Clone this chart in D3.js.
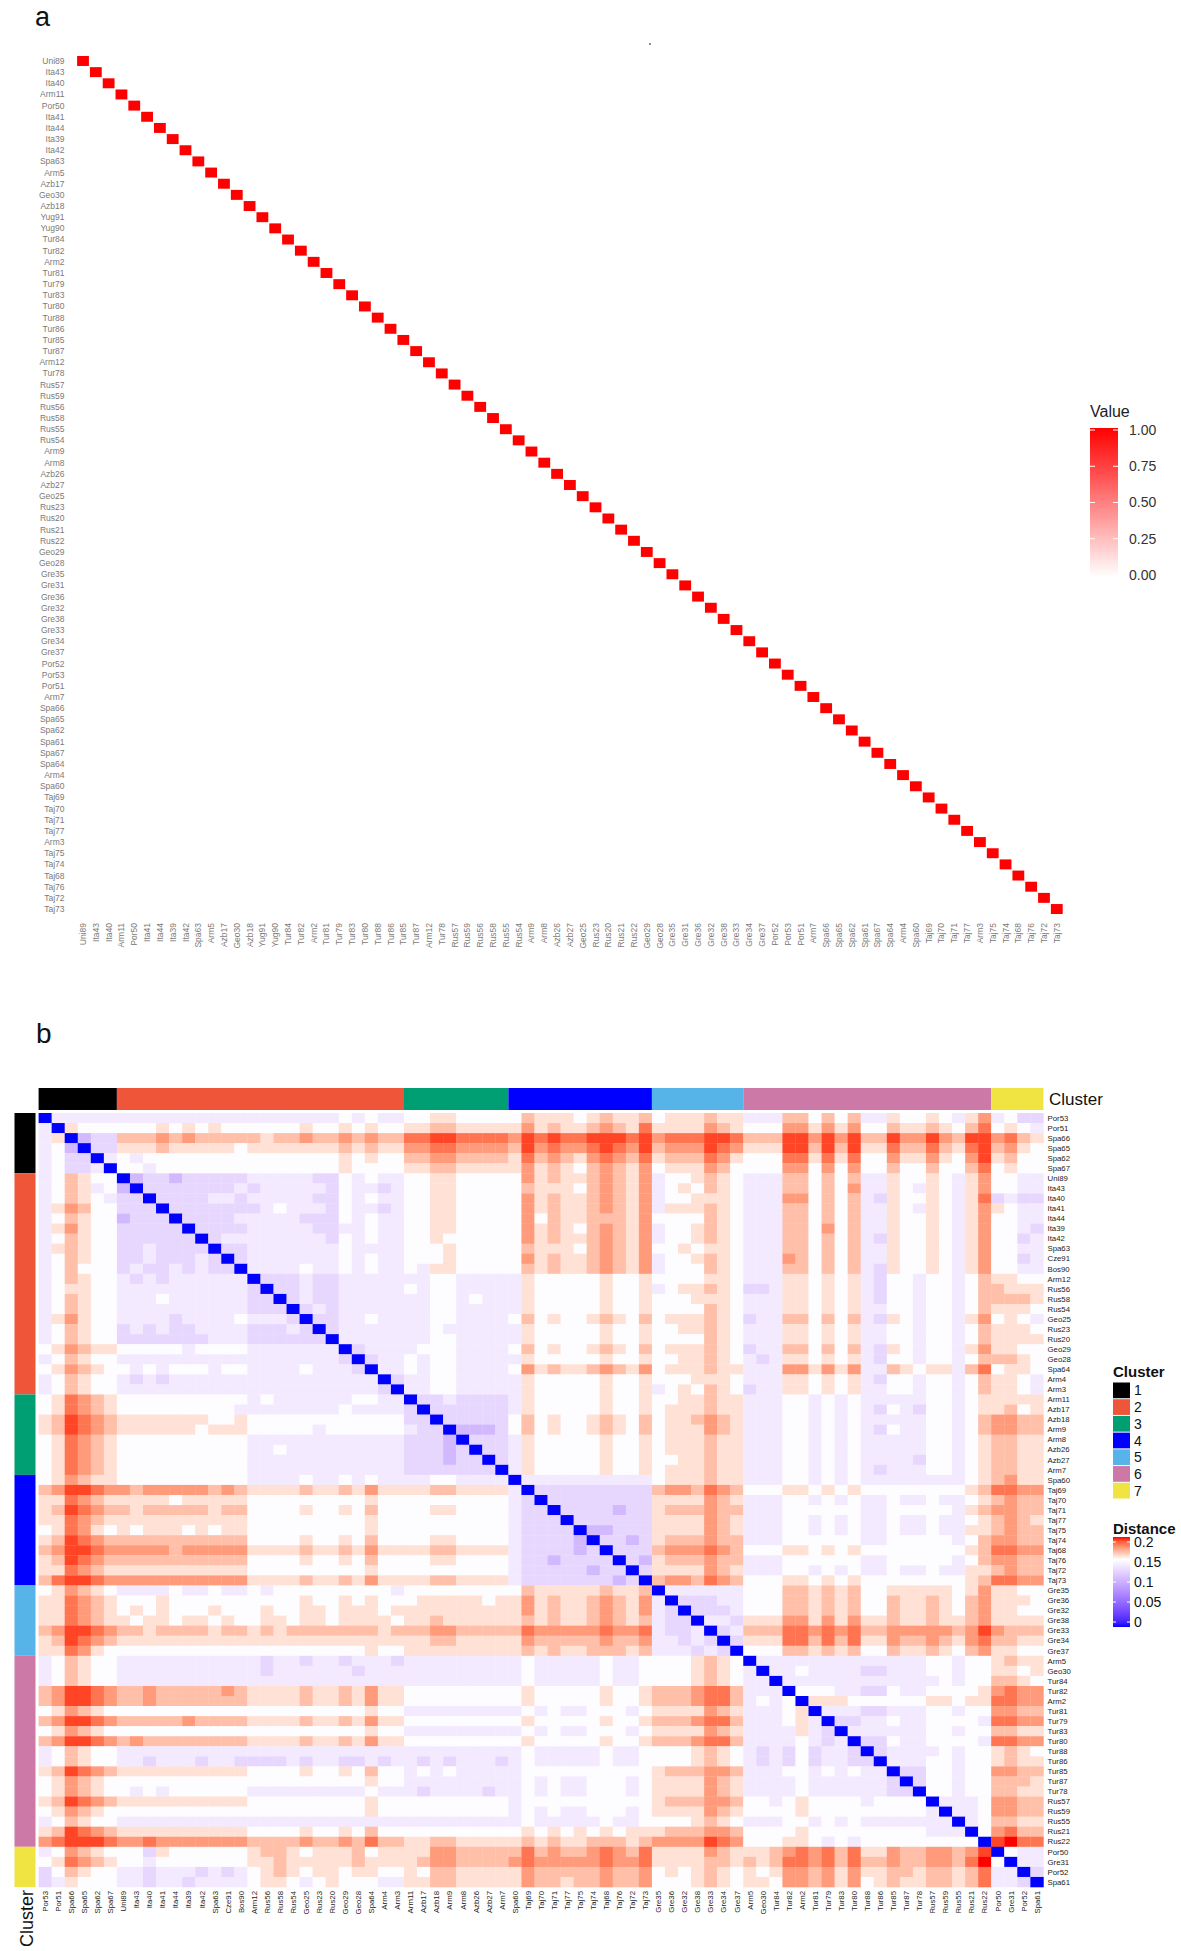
<!DOCTYPE html>
<html>
<head>
<meta charset="utf-8">
<script src="https://cdn.jsdelivr.net/npm/d3@7"></script>
<style>
  body { margin: 0; background: #fff; }
  svg { display: block; font-family: "Liberation Sans", Arial, sans-serif; }
</style>
</head>
<body>
<div id="chart"></div>
<script>
// ---- panel a data ----
const labelsA = ["Uni89","Ita43","Ita40","Arm11","Por50","Ita41","Ita44","Ita39","Ita42","Spa63","Arm5","Azb17","Geo30","Azb18","Yug91","Yug90","Tur84","Tur82","Arm2","Tur81","Tur79","Tur83","Tur80","Tur88","Tur86","Tur85","Tur87","Arm12","Tur78","Rus57","Rus59","Rus56","Rus58","Rus55","Rus54","Arm9","Arm8","Azb26","Azb27","Geo25","Rus23","Rus20","Rus21","Rus22","Geo29","Geo28","Gre35","Gre31","Gre36","Gre32","Gre38","Gre33","Gre34","Gre37","Por52","Por53","Por51","Arm7","Spa66","Spa65","Spa62","Spa61","Spa67","Spa64","Arm4","Spa60","Taj69","Taj70","Taj71","Taj77","Arm3","Taj75","Taj74","Taj68","Taj76","Taj72","Taj73"];
// diagonal values (all off-diagonal cells read as 0.00)
const diagonalA = [1,1,1,1,1,1,1,1,1,1,1, 1,1,1,1,1,1,1,1,1,1,1, 1,1,1,1,1,1,1,1,1,1,1, 1,1,1,1,1,1,1,1,1,1,1,
                   1,1,1,1,1,1,1,1,1,1,1, 1,1,1,1,1,1,1,1,1,1,1, 1,1,1,1,1,1,1,1,1,1,1];
const offDiagonalA = 0;
const valueTicks = [0, 0.25, 0.5, 0.75, 1];

// ---- panel b data ----
const labelsB = ["Por53","Por51","Spa66","Spa65","Spa62","Spa67","Uni89","Ita43","Ita40","Ita41","Ita44","Ita39","Ita42","Spa63","Cze91","Bos90","Arm12","Rus56","Rus58","Rus54","Geo25","Rus23","Rus20","Geo29","Geo28","Spa64","Arm4","Arm3","Arm11","Azb17","Azb18","Arm9","Arm8","Azb26","Azb27","Arm7","Spa60","Taj69","Taj70","Taj71","Taj77","Taj75","Taj74","Taj68","Taj76","Taj72","Taj73","Gre35","Gre36","Gre32","Gre38","Gre33","Gre34","Gre37","Arm5","Geo30","Tur84","Tur82","Arm2","Tur81","Tur79","Tur83","Tur80","Tur88","Tur86","Tur85","Tur87","Tur78","Rus57","Rus59","Rus55","Rus21","Rus22","Por50","Gre31","Por52","Spa61"];
const clusterB = [1,1,1,1,1,1,
  2,2,2,2,2,2,2,2,2,2,2,2,2,2,2,2,2,2,2,2,2,2,
  3,3,3,3,3,3,3,3,
  4,4,4,4,4,4,4,4,4,4,4,
  5,5,5,5,5,5,5,
  6,6,6,6,6,6,6,6,6,6,6,6,6,6,6,6,6,6,6,
  7,7,7,7];
const clusterNames = ["1","2","3","4","5","6","7"];
const clusterColors = ["#000000","#EE5539","#009E73","#0000FF","#56B4E9","#CC79A7","#F0E442"];
// distance read per cell, coded by shade (lower triangle, one row per sample)
const distanceCodes = {"1":0.105,"2":0.125,"3":0.137,"4":0.148,"5":0.158,"6":0.167,"7":0.176,"8":0.185,"9":0.194,"X":0.205};
const distanceRows = [
  "",
  "3",
  "35",
  "341",
  "3422",
  "34223",
  "346544",
  "346534 1",
  "346543 22",
  "357644 222",
  "346544 1222",
  "357544 22222",
  "346544 222222",
  "356544 2232222",
  "346544 22322232",
  "346444 232232322",
  "346544 3232333333",
  "345544 3333333333 2",
  "346544 3334333333 22",
  "346544 3333333333 222",
  "357544 3333233334 3332",
  "346544 2323223333 22232",
  "346544 2222222333 222222",
  "457655 4444434444 3333333",
  "346544 3333333333 33333332",
  "457654 4343444344 333343332",
  "346544 3232333333 3333333333",
  "346544 3333333333 33333333332",
  "458765 4444444444 343333334433",
  "458765 4444444443 333333343333 2",
  "569876 5555555445 444444444444 22",
  "569876 5555554555 444443444444 322",
  "458765 4444444444 333333333333 2221",
  "458765 4444444444 334333333333 22212",
  "458765 4444444444 333333333333 222122",
  "458765 4444444444 333333333333 2222222",
  "457655 4444444444 333343343433 33443333",
  "679987 7677777676 555565565755 55665555 3",
  "558765 5555455555 444444444544 44444444 32",
  "569876 6566666566 444454454644 44554444 322",
  "558765 5555555555 444444444544 44444444 3222",
  "458754 5455545455 444444444544 44444444 32222",
  "569876 6666666666 444454454644 44554444 322221",
  "679987 7777677777 555565565755 55665555 3222212",
  "569876 6666666666 444454454644 44554444 32212222",
  "558765 5555555555 444444444544 44444444 322222122",
  "689987 7777777777 555565565755 55665555 3222222212",
  "457654 3333433433 434444444443 44444444 46555556556",
  "558765 4445444444 444454454544 45555545 57565567657 3",
  "558765 4545444544 454455455545 55555555 57565567657 32",
  "558765 5455455454 455455455554 55655555 56565567656 322",
  "679987 6656666566 565666666656 66776666 68777778778 3223",
  "569876 5555555555 555555555555 55665555 57666667667 33232",
  "558754 4444444444 444444444544 55555555 56565566656 333232",
  "346544 3333333333 323323323332 33333333 34333334334 4445654",
  "346544 3333333333 323333332333 33333333 34333334334 4445654 3",
  "346544 3333333333 333333333333 33333333 34333334334 4445654 33",
  "679987 6676666676 555565565755 44444444 45444445445 6667886 333",
  "679987 6676666666 555565565755 44444444 45444445445 6667886 3434",
  "457654 4444444444 444444444544 33333333 34343344434 5555765 33345",
  "679987 6666676666 555565565755 44444444 45444445445 6667886 333453",
  "457654 4444444444 444444444544 33333333 34343344434 5555765 3333532",
  "679987 6766666666 555565565755 44444444 45444445445 6667886 33334323",
  "346544 3333333333 333333333333 33333333 34333334334 4445654 323242332",
  "346544 3323332332 222323322323 32323332 34333334334 4445654 3232423322",
  "569876 5555555555 444454454644 34343333 34444444444 5666776 33344343433",
  "457654 4444444444 444444444544 33333333 34343344434 5555765 333343333332",
  "457654 4343444444 333333333433 32333323 34343344434 5555765 3333433333322",
  "569876 5555555555 444444444544 44444444 34444444444 5666776 44345444434444",
  "457654 4444444444 444444444544 44444444 34343344434 5555765 444454444444443",
  "346544 3333333333 333333333333 33333333 34333334334 4445654 3334434343333333",
  "569876 5555555555 444454454644 44444444 45454545455 5666776 44445444444444333",
  "789998 7787777777 666676676866 55665555 56565566656 7777987 444554343444444444",
  "347654 4425444444 566545556455 55776666 68676678768 5555765 5567878685576677679",
  "458765 4434444444 556555556555 56776666 78777778778 5555665 656887868667667768X 4",
  "246544 3323332323 456545545544 54665555 57666667667 4545654 5457767575566566568 33",
  "235444 3323323333 455434544433 55665555 57665667667 4445654 5547767574565566568 332"
];
const distanceTicks = [0, 0.05, 0.1, 0.15, 0.2];

const width = 1181, height = 1951;

const svg = d3.select("#chart").append("svg")
  .attr("width", width).attr("height", height)
  .attr("viewBox", `0 0 ${width} ${height}`);
svg.append("rect").attr("width", width).attr("height", height).attr("fill", "#fff");
const defs = svg.append("defs");

// ================= panel a =================
const gA = svg.append("g");
const xA = d3.scaleBand().domain(labelsA).range([76.6, 1063.2]);
const yA = d3.scaleBand().domain(labelsA).range([55.4, 914.6]);
const colorA = d3.scaleLinear().domain([0, 1]).range(["#ffffff", "#ff0000"]);

const cellsA = [];
labelsA.forEach((r, i) => labelsA.forEach((c, j) => {
  cellsA.push({ r, c, v: i === j ? diagonalA[i] : offDiagonalA });
}));

gA.selectAll("rect.cell")
  .data(cellsA)
  .join("rect")
  .attr("class", "cell")
  .attr("x", d => xA(d.c) + 0.5)
  .attr("y", d => yA(d.r) + 0.6)
  .attr("width", xA.bandwidth() - 1)
  .attr("height", yA.bandwidth() - 1.2)
  .attr("fill", d => colorA(d.v));

gA.selectAll("text.ylab")
  .data(labelsA)
  .join("text")
  .attr("class", "ylab")
  .attr("x", 64.5)
  .attr("y", d => yA(d) + yA.bandwidth() / 2)
  .attr("dy", "0.35em")
  .attr("text-anchor", "end")
  .attr("font-size", 8.5)
  .attr("fill", "#7a7a7a")
  .text(d => d);

gA.selectAll("text.xlab")
  .data(labelsA)
  .join("text")
  .attr("class", "xlab")
  .attr("transform", d => `translate(${xA(d) + xA.bandwidth() / 2 + 3},923) rotate(-90)`)
  .attr("text-anchor", "end")
  .attr("font-size", 8.5)
  .attr("fill", "#7a7a7a")
  .text(d => d);

svg.append("text").attr("x", 35).attr("y", 26).attr("font-size", 27).attr("fill", "#111").text("a");
svg.append("circle").attr("cx", 650).attr("cy", 44).attr("r", 0.9).attr("fill", "#555");

// legend a
const legA = svg.append("g");
const yLegA = d3.scaleLinear().domain([0, 1]).range([575, 430]);
const gradA = defs.append("linearGradient").attr("id", "gradA")
  .attr("x1", 0).attr("y1", 1).attr("x2", 0).attr("y2", 0);
d3.range(0, 1.0001, 0.1).forEach(t => gradA.append("stop").attr("offset", t).attr("stop-color", colorA(t)));
legA.append("text").attr("x", 1090).attr("y", 417).attr("font-size", 16).attr("fill", "#222").text("Value");
legA.append("rect").attr("x", 1090).attr("y", yLegA(1) - 2).attr("width", 28)
  .attr("height", yLegA(0) - yLegA(1) + 4).attr("fill", "url(#gradA)");
valueTicks.forEach(t => {
  legA.append("line").attr("x1", 1090).attr("x2", 1095).attr("y1", yLegA(t)).attr("y2", yLegA(t))
    .attr("stroke", "#fff").attr("stroke-width", 1);
  legA.append("line").attr("x1", 1113).attr("x2", 1118).attr("y1", yLegA(t)).attr("y2", yLegA(t))
    .attr("stroke", "#fff").attr("stroke-width", 1);
});
legA.selectAll("text.tick")
  .data(valueTicks)
  .join("text")
  .attr("class", "tick")
  .attr("x", 1129)
  .attr("y", d => yLegA(d))
  .attr("dy", "0.35em")
  .attr("font-size", 14)
  .attr("fill", "#333")
  .text(d => d3.format(".2f")(d));

// ================= panel b =================
const gB = svg.append("g");
const xB = d3.scaleBand().domain(labelsB).range([38.6, 1043.4]);
const yB = d3.scaleBand().domain(labelsB).range([1113, 1887]);
const colorB = d3.scaleLinear().domain([0, 0.15, 0.2])
  .range(["#0000ff", "#ffffff", "#ff0000"])
  .interpolate(d3.interpolateLab)
  .clamp(true);
const clusterColor = d3.scaleOrdinal().domain([1, 2, 3, 4, 5, 6, 7]).range(clusterColors);

// symmetric distance matrix from the lower triangle
const n = labelsB.length;
const dist = labelsB.map(() => new Array(n).fill(0));
distanceRows.forEach((row, i) => {
  const codes = row.replace(/\s/g, "");
  for (let j = 0; j < i; j++) {
    const v = distanceCodes[codes[j]] ?? 0.148;
    dist[i][j] = v;
    dist[j][i] = v;
  }
});

const cellsB = [];
labelsB.forEach((r, i) => labelsB.forEach((c, j) => cellsB.push({ r, c, v: dist[i][j] })));

gB.selectAll("rect.cell")
  .data(cellsB)
  .join("rect")
  .attr("class", "cell")
  .attr("x", d => xB(d.c))
  .attr("y", d => yB(d.r))
  .attr("width", xB.bandwidth() + 0.3)
  .attr("height", yB.bandwidth() + 0.3)
  .attr("fill", d => colorB(d.v));

// cluster annotations, one block per cluster
const segments = d3.groups(labelsB.map((l, i) => ({ l, k: clusterB[i] })), d => d.k)
  .map(([k, items]) => ({ k, first: items[0].l, last: items[items.length - 1].l }));

gB.selectAll("rect.topann")
  .data(segments)
  .join("rect")
  .attr("class", "topann")
  .attr("x", d => xB(d.first))
  .attr("y", 1088)
  .attr("width", d => xB(d.last) + xB.bandwidth() - xB(d.first))
  .attr("height", 22)
  .attr("fill", d => clusterColor(d.k));

gB.selectAll("rect.leftann")
  .data(segments)
  .join("rect")
  .attr("class", "leftann")
  .attr("x", 14.5)
  .attr("y", d => yB(d.first))
  .attr("width", 21)
  .attr("height", d => yB(d.last) + yB.bandwidth() - yB(d.first))
  .attr("fill", d => clusterColor(d.k));

gB.selectAll("text.rowlab")
  .data(labelsB)
  .join("text")
  .attr("class", "rowlab")
  .attr("x", 1047.5)
  .attr("y", d => yB(d) + yB.bandwidth() / 2)
  .attr("dy", "0.35em")
  .attr("font-size", 7.8)
  .attr("fill", "#222")
  .text(d => d);

gB.selectAll("text.collab")
  .data(labelsB)
  .join("text")
  .attr("class", "collab")
  .attr("transform", d => `translate(${xB(d) + xB.bandwidth() / 2 + 2.8},1891) rotate(-90)`)
  .attr("text-anchor", "end")
  .attr("font-size", 7.8)
  .attr("fill", "#222")
  .text(d => d);

svg.append("text").attr("x", 1049).attr("y", 1105).attr("font-size", 17).attr("fill", "#111").text("Cluster");
svg.append("text").attr("transform", "translate(33,1890) rotate(-90)")
  .attr("text-anchor", "end").attr("font-size", 18).attr("fill", "#111").text("Cluster");
svg.append("text").attr("x", 36).attr("y", 1043).attr("font-size", 28).attr("fill", "#111").text("b");

// legend b: clusters
const legB = svg.append("g");
legB.append("text").attr("x", 1113).attr("y", 1377).attr("font-size", 15)
  .attr("font-weight", "bold").attr("fill", "#111").text("Cluster");
const ySw = d3.scaleBand().domain(clusterNames).range([1382, 1499]);
legB.selectAll("rect.sw")
  .data(clusterNames)
  .join("rect")
  .attr("class", "sw")
  .attr("x", 1113)
  .attr("y", d => ySw(d) + 0.5)
  .attr("width", 17)
  .attr("height", ySw.bandwidth() - 1)
  .attr("fill", (d, i) => clusterColors[i]);
legB.selectAll("text.swl")
  .data(clusterNames)
  .join("text")
  .attr("class", "swl")
  .attr("x", 1134)
  .attr("y", d => ySw(d) + ySw.bandwidth() / 2)
  .attr("dy", "0.36em")
  .attr("font-size", 14)
  .attr("fill", "#111")
  .text(d => d);

// legend b: distance
legB.append("text").attr("x", 1113).attr("y", 1534).attr("font-size", 15)
  .attr("font-weight", "bold").attr("fill", "#111").text("Distance");
const yLegB = d3.scaleLinear().domain([0, 0.2]).range([1622, 1542]);
const gradB = defs.append("linearGradient").attr("id", "gradB")
  .attr("x1", 0).attr("y1", 1).attr("x2", 0).attr("y2", 0);
d3.range(0, 1.0001, 0.05).forEach(t => gradB.append("stop").attr("offset", t).attr("stop-color", colorB(t * 0.2)));
legB.append("rect").attr("x", 1113).attr("y", 1537).attr("width", 17).attr("height", 90)
  .attr("fill", "url(#gradB)");
distanceTicks.forEach(t => {
  legB.append("line").attr("x1", 1113).attr("x2", 1116).attr("y1", yLegB(t)).attr("y2", yLegB(t))
    .attr("stroke", "#fff").attr("stroke-width", 1);
  legB.append("line").attr("x1", 1127).attr("x2", 1130).attr("y1", yLegB(t)).attr("y2", yLegB(t))
    .attr("stroke", "#fff").attr("stroke-width", 1);
});
legB.selectAll("text.dt")
  .data(distanceTicks)
  .join("text")
  .attr("class", "dt")
  .attr("x", 1134)
  .attr("y", d => yLegB(d))
  .attr("dy", "0.36em")
  .attr("font-size", 14)
  .attr("fill", "#111")
  .text(d => d3.format("~g")(d));
</script>
</body>
</html>
